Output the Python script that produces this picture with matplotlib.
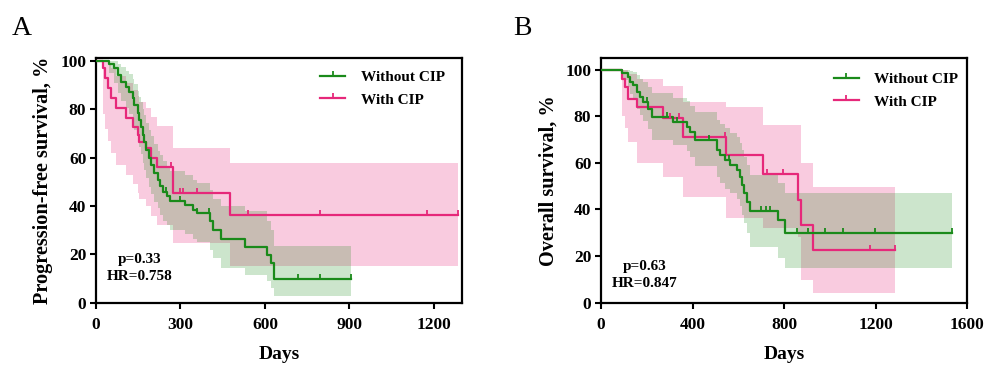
import numpy as np
import matplotlib
matplotlib.use('Agg')
import matplotlib.pyplot as plt
from matplotlib.lines import Line2D

plt.rcParams['font.family'] = ['Liberation Serif', 'DejaVu Serif']
plt.rcParams['font.weight'] = 'bold'

GREEN = '#1a8a1a'
PINK = '#e6287a'

# ---- panel A: progression-free survival ----
pfs_wo_t = [0, 47, 65, 77, 89, 106, 118, 130, 136, 148, 154, 160, 166, 172, 177, 189, 195, 207,
            219, 227, 239, 251, 263, 316, 345, 357, 405, 416, 445, 529, 606, 620, 632, 904]
pfs_wo_s = [100, 99.0, 97.0, 94.2, 91.5, 89.4, 87.3, 84.6, 81.8, 78.4, 75.6, 72.9, 69.4, 66.7, 63.2,
            59.8, 57.0, 53.6, 50.8, 48.5, 46.0, 44.0, 41.9, 40.5, 38.4, 37.0, 34.0, 30.2, 26.5, 23.0,
            19.8, 16.5, 9.9, 9.9]
pfs_wo_lo = [100, 95, 91, 87, 83.5, 80.5, 78, 74.5, 71.5, 67.5, 64.5, 61.5, 58, 55, 51.5, 48, 45,
             41.5, 39, 36.5, 34, 32, 30, 28.5, 26.5, 25, 22, 18.5, 14.3, 11.6, 8.8, 6, 2.6, 2.6]
pfs_wo_hi = [100, 100, 100, 99, 97.5, 96, 94.5, 92.5, 90.5, 87.5, 85, 83, 80, 77.5, 74.5, 71.5, 69,
             65.5, 63, 61, 58.5, 56.5, 54.5, 53, 51, 49.5, 46.5, 43, 40, 38, 34, 30, 23.3, 23.3]
pfs_wo_cens = [250, 300, 357, 400, 716, 795, 904]

pfs_w_t = [0, 26, 33, 41, 53, 71, 106, 130, 148, 154, 177, 195, 215, 275, 476, 1286]
pfs_w_s = [100, 97, 92.9, 89, 84.9, 80.4, 76.3, 72.8, 69.4, 66.7, 63.9, 59.8, 56.0, 45.3, 36.3, 36.3]
pfs_w_lo = [100, 78, 72, 67, 62, 57, 53, 49, 45.5, 43, 40, 36, 32, 24.7, 15, 15]
pfs_w_hi = [100, 100, 100, 99, 97, 94, 91, 88, 85.5, 83, 80.5, 77, 73, 63.9, 57.7, 57.7]
pfs_w_cens = [268, 298, 309, 357, 540, 795, 1174, 1286]

# ---- panel B: overall survival ----
os_wo_t = [0, 90, 120, 126, 141, 156, 171, 185, 207, 222, 316, 375, 389, 411, 506, 520, 542, 564,
           593, 608, 615, 625, 637, 652, 775, 805, 1533]
os_wo_s = [100, 98.4, 96.9, 94.8, 93.3, 90.5, 88.3, 86.2, 83.3, 79.8, 77.6, 75.5, 73.3, 69.8, 65.5,
           63.3, 61.2, 59.0, 56.9, 54.0, 50.4, 47.0, 43.3, 39.5, 35.5, 30.0, 30.0]
os_wo_lo = [100, 95.5, 92.5, 89.5, 87, 83, 80.5, 78, 74.5, 70, 67.5, 65, 62.5, 58.5, 54, 51.5, 49,
            47, 44.5, 41.5, 37.5, 34, 30, 24, 19, 14.7, 14.7]
os_wo_hi = [100, 100, 100, 99.5, 99, 97.5, 96, 94.5, 92.5, 90, 88, 86.5, 84.5, 82, 78.5, 76.5, 75,
            73, 71, 68.5, 65.5, 62.5, 59, 55, 51.2, 46.9, 46.9]
os_wo_cens = [200, 290, 330, 470, 560, 700, 720, 740, 856, 906, 979, 1059, 1198, 1533]

os_w_t = [0, 90, 105, 120, 156, 273, 360, 546, 710, 863, 872, 928, 1285]
os_w_s = [100, 96.2, 92.6, 87.6, 84.0, 79.1, 71.2, 63.3, 55.4, 44.0, 33.3, 22.6, 22.6]
os_w_lo = [100, 80, 75, 69, 60, 54, 45.5, 36.2, 32, 28, 9.7, 4, 4]
os_w_hi = [100, 100, 100, 98, 96, 93, 86.2, 84, 76.2, 76.2, 59.8, 49.7, 49.7]
os_w_cens = [300, 340, 542, 725, 797, 1176, 1285]

TICK = [(0, 0), (0, 1)]  # upward censor tick


def km(ax, t, s, lo, hi, cens, color, alpha):
    ax.fill_between(t, lo, hi, step='post', color=color, alpha=alpha, lw=0)
    ax.step(t, s, where='post', color=color, lw=1.6, zorder=3)
    t = np.asarray(t)
    idx = np.searchsorted(t, cens, side='right') - 1
    ax.plot(cens, np.asarray(s)[idx], ls='none', marker=TICK, ms=7, mec=color, mew=1.3, zorder=4)


def style(ax, xmax, xticks, ymax, ylabel):
    ax.set_xlim(0, xmax)
    ax.set_ylim(0, ymax)
    ax.set_xticks(xticks)
    ax.set_yticks([0, 20, 40, 60, 80, 100])
    for sp in ax.spines.values():
        sp.set_linewidth(1.6)
    ax.tick_params(direction='out', length=4, width=1.5, labelsize=12.5)
    ax.tick_params(axis='x', pad=6)
    ax.tick_params(axis='y', pad=3)
    ax.set_xlabel('Days', fontsize=14, fontweight='bold')
    ax.set_ylabel(ylabel, fontsize=14.6, fontweight='bold')
    ax.xaxis.set_label_coords(0.5, -0.175)
    ax.yaxis.set_label_coords(-0.117, 0.5)
    handles = [Line2D([0], [0], color=GREEN, lw=1.6, marker=TICK, ms=7, mew=1.3),
               Line2D([0], [0], color=PINK, lw=1.6, marker=TICK, ms=7, mew=1.3)]
    return handles


fig = plt.figure(figsize=(9.9, 3.65), dpi=100)

axA = fig.add_axes([0.097, 0.1707, 0.3697, 0.6704])
km(axA, pfs_w_t, pfs_w_s, pfs_w_lo, pfs_w_hi, pfs_w_cens, PINK, 0.24)
km(axA, pfs_wo_t, pfs_wo_s, pfs_wo_lo, pfs_wo_hi, pfs_wo_cens, GREEN, 0.22)
h = style(axA, 1300, [0, 300, 600, 900, 1200], 101.3, 'Progression-free survival, %')
axA.legend(h, ['Without CIP', 'With CIP'], loc='upper left', bbox_to_anchor=(0.612, 0.95),
           frameon=False, fontsize=11, handlelength=1.65, handletextpad=1.0, labelspacing=0.6,
           borderpad=0, borderaxespad=0)
axA.text(155, 14.5, 'p=0.33\nHR=0.758', ha='center', va='center', fontsize=11,
         fontweight='bold', linespacing=1.4)
fig.text(0.012, 0.905, 'A', fontsize=20, fontweight='normal')

axB = fig.add_axes([0.6071, 0.1707, 0.3697, 0.6704])
km(axB, os_w_t, os_w_s, os_w_lo, os_w_hi, os_w_cens, PINK, 0.24)
km(axB, os_wo_t, os_wo_s, os_wo_lo, os_wo_hi, os_wo_cens, GREEN, 0.22)
h = style(axB, 1600, [0, 400, 800, 1200, 1600], 105, 'Overall survival, %')
axB.legend(h, ['Without CIP', 'With CIP'], loc='upper left', bbox_to_anchor=(0.636, 0.942),
           frameon=False, fontsize=11, handlelength=1.65, handletextpad=1.0, labelspacing=0.6,
           borderpad=0, borderaxespad=0)
axB.text(190, 11.9, 'p=0.63\nHR=0.847', ha='center', va='center', fontsize=11,
         fontweight='bold', linespacing=1.4)
fig.text(0.518, 0.905, 'B', fontsize=20, fontweight='normal')

fig.savefig('out.png', dpi=100)
